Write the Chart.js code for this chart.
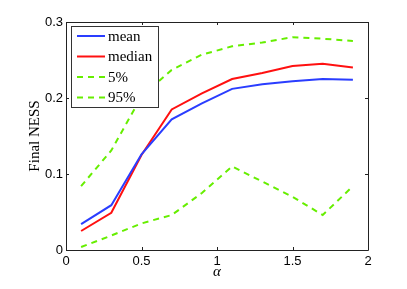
<!DOCTYPE html>
<html>
<head>
<meta charset="utf-8">
<script src="https://cdn.jsdelivr.net/npm/chart.js@4"></script>
<style>
  html, body { margin: 0; padding: 0; background: #fff; }
  #wrap { width: 407px; height: 289px; }
</style>
</head>
<body>
<div id="wrap"><canvas id="nessChart" width="407" height="289"></canvas></div>
<script>
// values
const alphaValues = [0.1, 0.3, 0.5, 0.7, 0.9, 1.1, 1.3, 1.5, 1.7, 1.9];
const meanValues = [0.034, 0.059, 0.126, 0.172, 0.193, 0.212, 0.218, 0.222, 0.225, 0.224];
const medianValues = [0.025, 0.049, 0.125, 0.185, 0.206, 0.225, 0.233, 0.242, 0.245, 0.240];
const p5Values = [0.004, 0.019, 0.035, 0.046, 0.075, 0.110, 0.090, 0.070, 0.046, 0.084];
const p95Values = [0.084, 0.131, 0.202, 0.237, 0.257, 0.268, 0.273, 0.280, 0.278, 0.275];
const xTicks = [0, 0.5, 1, 1.5, 2];
const yTicks = [0, 0.1, 0.2, 0.3];

function toPoints(vals) {
    return alphaValues.map((a, i) => ({ x: a, y: vals[i] }));
}

const serif = '"Liberation Serif", "DejaVu Serif", serif';
const sans = '"Liberation Sans", Arial, sans-serif';

// box round the plot, inward tick marks, y title and the legend inside the plot
const boxPlugin = {
    id: 'boxPlugin',
    afterDatasetsDraw(chart) {
        const ctx = chart.ctx;
        const a = chart.chartArea;
        const xs = chart.scales.x, ys = chart.scales.y;
        ctx.save();
        ctx.strokeStyle = '#222';
        ctx.lineWidth = 1;
        ctx.beginPath();
        ctx.rect(Math.round(a.left) + 0.5, Math.round(a.top) + 0.5,
                 Math.round(a.right - a.left), Math.round(a.bottom - a.top));
        ctx.stroke();
        ctx.beginPath();
        xTicks.forEach(v => {
            const px = Math.round(xs.getPixelForValue(v)) + 0.5;
            ctx.moveTo(px, a.bottom); ctx.lineTo(px, a.bottom - 3);
            ctx.moveTo(px, a.top); ctx.lineTo(px, a.top + 3);
        });
        yTicks.forEach(v => {
            const py = Math.round(ys.getPixelForValue(v)) + 0.5;
            ctx.moveTo(a.left, py); ctx.lineTo(a.left + 3, py);
            ctx.moveTo(a.right, py); ctx.lineTo(a.right - 3, py);
        });
        ctx.stroke();

        // y axis title
        ctx.save();
        ctx.translate(35, (a.top + a.bottom) / 2);
        ctx.rotate(-Math.PI / 2);
        ctx.font = '15px ' + serif;
        ctx.fillStyle = '#000';
        ctx.textAlign = 'center';
        ctx.textBaseline = 'middle';
        ctx.fillText('Final NESS', 0, 0);
        ctx.restore();

        // legend
        const lx = 71, ly = 26, lw = 87, lh = 81;
        ctx.fillStyle = '#fff';
        ctx.fillRect(lx, ly, lw, lh);
        ctx.strokeStyle = '#333';
        ctx.strokeRect(lx + 0.5, ly + 0.5, lw, lh);
        ctx.font = '15px ' + serif;
        ctx.textBaseline = 'middle';
        chart.data.datasets.forEach((ds, i) => {
            const y = ly + 10 + i * 20.5;
            ctx.strokeStyle = ds.borderColor;
            ctx.lineWidth = 2;
            ctx.setLineDash(ds.borderDash || []);
            ctx.beginPath();
            ctx.moveTo(lx + 6, y);
            ctx.lineTo(lx + 34, y);
            ctx.stroke();
            ctx.setLineDash([]);
            ctx.fillStyle = '#000';
            ctx.fillText(ds.label, lx + 37, y + 1);
        });
        ctx.restore();
    }
};

const tickLabel = v => String(Math.round(v * 10) / 10);

const ctx = document.getElementById('nessChart').getContext('2d');
const nessChart = new Chart(ctx, {
    type: 'line',
    data: {
        datasets: [
            { label: 'mean', data: toPoints(meanValues), borderColor: '#2a3dff', borderWidth: 2 },
            { label: 'median', data: toPoints(medianValues), borderColor: '#ff1010', borderWidth: 2 },
            { label: '5%', data: toPoints(p5Values), borderColor: '#66ee00', borderWidth: 2, borderDash: [6, 5] },
            { label: '95%', data: toPoints(p95Values), borderColor: '#66ee00', borderWidth: 2, borderDash: [6, 5] }
        ]
    },
    options: {
        responsive: false,
        animation: false,
        elements: { point: { radius: 0 }, line: { tension: 0, fill: false } },
        layout: { padding: { left: 0, top: 22, right: 39, bottom: 8 } },
        plugins: { legend: { display: false }, tooltip: { enabled: false } },
        scales: {
            x: {
                type: 'linear',
                min: 0, max: 2,
                afterBuildTicks: s => { s.ticks = xTicks.map(v => ({ value: v })); },
                afterFit: s => { s.height = 31; },
                grid: { display: false, drawTicks: false },
                border: { display: false },
                ticks: { color: '#000', font: { family: sans, size: 13 }, padding: 4, maxRotation: 0, callback: tickLabel },
                title: { display: true, text: 'α', color: '#000', font: { family: serif, size: 15, style: 'italic' }, padding: { top: 0, bottom: 0 } }
            },
            y: {
                min: 0, max: 0.3,
                afterBuildTicks: s => { s.ticks = yTicks.map(v => ({ value: v })); },
                afterFit: s => { s.width = 66; },
                grid: { display: false, drawTicks: false },
                border: { display: false },
                ticks: { color: '#000', font: { family: sans, size: 13 }, padding: 3, callback: tickLabel }
            }
        }
    },
    plugins: [boxPlugin]
});
</script>
</body>
</html>
